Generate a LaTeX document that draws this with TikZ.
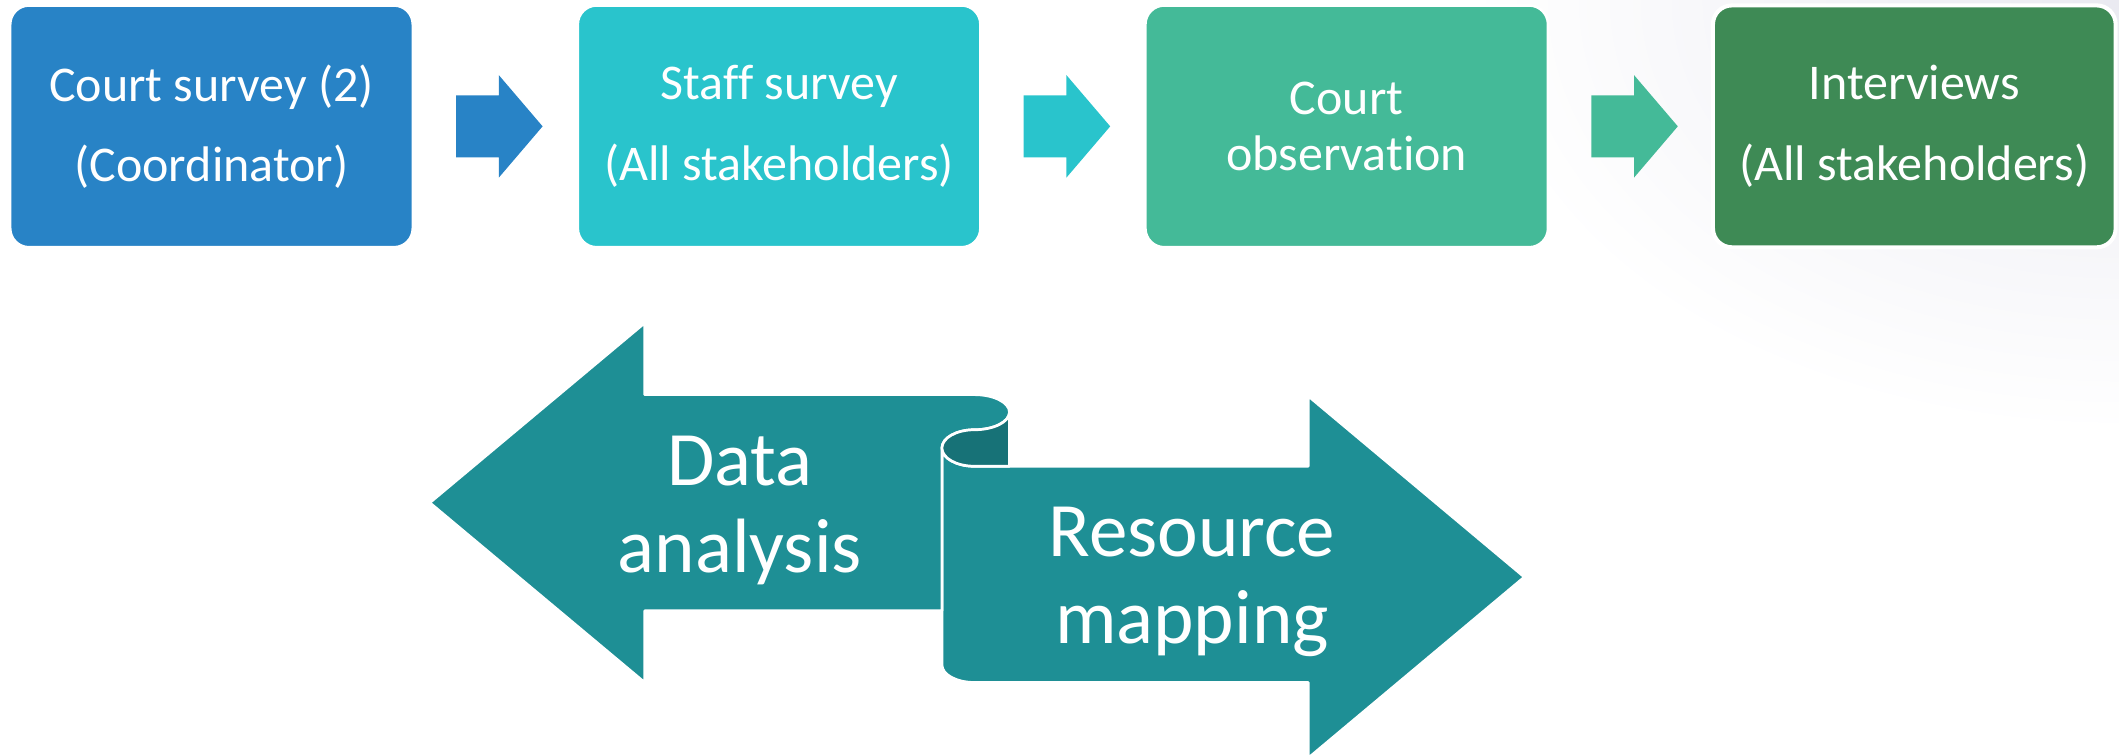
\documentclass[tikz,border=0pt]{standalone}
\usepackage{fontspec}
\setmainfont{Carlito}[Ligatures=NoCommon]
\usetikzlibrary{positioning,shapes.arrows}
\definecolor{courtblue}{RGB}{40,131,198}
\definecolor{staffcyan}{RGB}{41,196,204}
\definecolor{obsgreen}{RGB}{68,186,152}
\definecolor{intgreen}{RGB}{62,138,85}
\definecolor{ribbon}{RGB}{30,143,149}
\definecolor{ribbonfold}{RGB}{23,114,119}
\definecolor{haze}{RGB}{234,234,241}
\begin{document}
\begin{tikzpicture}[x=0.5pt,y=0.5pt,
  stagebox/.style={rounded corners=7pt,draw=white,line width=1pt,outer sep=0pt,minimum width=149pt,minimum height=89.5pt,
    inner sep=0pt,text=white,align=center,font=\fontsize{18.5}{29.7}\selectfont},
  stepflow/.style={single arrow,draw=none,outer sep=0pt,inner xsep=0pt,inner ysep=11.25pt,minimum height=32pt,
    single arrow head extend=7.5pt,single arrow tip angle=99},
  ribbonpart/.style={draw=white,line width=1pt,line join=round},
  bigtext/.style={text=white,align=center,font=\fontsize{28.5}{32}\selectfont}]
\useasboundingbox (0,0) rectangle (1568,-558);
\begin{scope}
\clip (0,0) rectangle (1568,-558);
\shade[inner color=haze,outer color=white] (1568,0) ellipse [x radius=480,y radius=320];
\end{scope}
% top row
\node[stagebox,fill=courtblue] (cs) at (156.5,-93.5) {Court survey (2)\\(Coordinator)};
\node[stepflow,fill=courtblue,right=16pt of cs] (a1) {};
\node[stagebox,fill=staffcyan,right=13pt of a1] (ss) {Staff survey\\(All stakeholders)};
\node[stepflow,fill=staffcyan,right=16pt of ss] (a2) {};
\node[stagebox,fill=obsgreen,right=13pt of a2,font=\fontsize{18.5}{21}\selectfont] (co) {Court\\observation};
\node[stepflow,fill=obsgreen,right=16pt of co] (a3) {};
\node[stagebox,fill=intgreen,line width=1.5pt,right=13pt of a3] (iv) {Interviews\\(All stakeholders)};
% bottom ribbon arrows
\fill[ribbon,ribbonpart] (697,-331.5) arc[start angle=180,end angle=270,x radius=24,y radius=13.5]
  -- (968,-345) -- (968,-293) -- (1128,-427) -- (968,-561) -- (968,-505) -- (721,-505)
  arc[start angle=270,end angle=180,x radius=24,y radius=13] -- cycle;
\fill[ribbon,ribbonpart] (318,-372) -- (477,-239) -- (477,-292) -- (721,-292)
  arc[start angle=90,end angle=-90,x radius=26,y radius=13]
  arc[start angle=90,end angle=180,x radius=24,y radius=13.5]
  -- (697,-452) -- (477,-452) -- (477,-505) -- cycle;
\fill[ribbonfold,ribbonpart] (747,-305) -- (747,-345) -- (721,-345)
  arc[start angle=270,end angle=90,x radius=24,y radius=13.5]
  arc[start angle=270,end angle=360,x radius=26,y radius=13] -- cycle;
\node[bigtext] (da) at (547.5,-377.7) {Data\\analysis};
\node[bigtext] (rm) at (882,-430.5) {Resource\\mapping};
\end{tikzpicture}
\end{document}
